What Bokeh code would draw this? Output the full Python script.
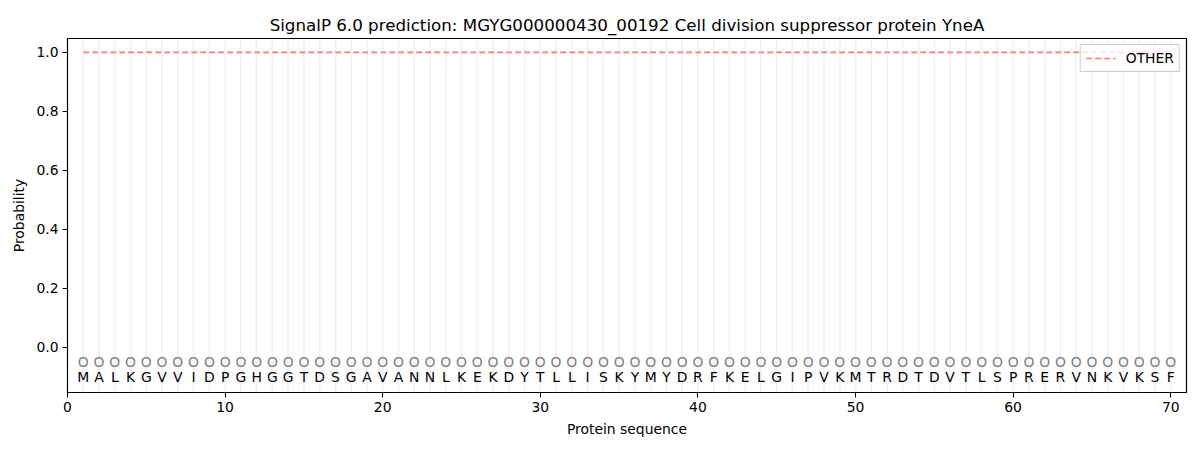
from bokeh.plotting import figure
from bokeh.models import Range1d, ColumnDataSource, Legend, LegendItem, FixedTicker
from bokeh.core.properties import value
from bokeh.embed import file_html
from bokeh.resources import INLINE

title_text = "SignalP 6.0 prediction: MGYG000000430_00192 Cell division suppressor protein YneA"
residues = ["M", "A", "L", "K", "G", "V", "V", "I", "D", "P",
            "G", "H", "G", "G", "T", "D", "S", "G", "A", "V",
            "A", "N", "N", "L", "K", "E", "K", "D", "Y", "T",
            "L", "L", "I", "S", "K", "Y", "M", "Y", "D", "R",
            "F", "K", "E", "L", "G", "I", "P", "V", "K", "M",
            "T", "R", "D", "T", "D", "V", "T", "L", "S", "P",
            "R", "E", "R", "V", "N", "K", "V", "K", "S", "F"]
positions = list(range(1, len(residues) + 1))
labels = ["O"] * len(residues)
other_prob = [1.0, 1.0, 1.0, 1.0, 1.0, 1.0, 1.0, 1.0, 1.0, 1.0,
              1.0, 1.0, 1.0, 1.0, 1.0, 1.0, 1.0, 1.0, 1.0, 1.0,
              1.0, 1.0, 1.0, 1.0, 1.0, 1.0, 1.0, 1.0, 1.0, 1.0,
              1.0, 1.0, 1.0, 1.0, 1.0, 1.0, 1.0, 1.0, 1.0, 1.0,
              1.0, 1.0, 1.0, 1.0, 1.0, 1.0, 1.0, 1.0, 1.0, 1.0,
              1.0, 1.0, 1.0, 1.0, 1.0, 1.0, 1.0, 1.0, 1.0, 1.0,
              1.0, 1.0, 1.0, 1.0, 1.0, 1.0, 1.0, 1.0, 1.0, 1.0]
x_ticks = [0, 10, 20, 30, 40, 50, 60, 70]
y_ticks = [0.0, 0.2, 0.4, 0.6, 0.8, 1.0]

FONT = "DejaVu Sans"
FS = "13.9px"

p = figure(width=1192, height=442, output_backend="svg", toolbar_location=None,
           x_range=Range1d(0, 71), y_range=Range1d(-0.153, 1.047),
           min_border_left=67, min_border_right=6, min_border_top=38, min_border_bottom=50)

p.title.text = title_text
p.title.align = "center"
p.title.text_font = FONT
p.title.text_font_size = "16.7px"
p.title.text_font_style = "normal"
p.title.text_color = "black"
p.title.standoff = 8

p.xgrid.visible = False
p.ygrid.visible = False
p.outline_line_color = "black"
p.outline_line_width = 1.2
p.outline_line_alpha = 1.0

# vertical guide lines at each residue
p.segment(x0=positions, y0=[-0.153] * len(positions), x1=positions, y1=[1.047] * len(positions),
          line_color="#d8d8d8", line_alpha=0.3, line_width=2)

src = ColumnDataSource(dict(x=positions, other=other_prob, res=residues, lab=labels,
                            ylab=[-0.05] * len(positions), yres=[-0.10] * len(positions)))

line = p.line(x="x", y="other", source=src, line_color="#f08080", line_width=1.7,
              line_dash="6 3")

p.text(x="x", y="ylab", text="lab", source=src, text_align="center", text_baseline="middle",
       text_font=value(FONT), text_font_size=FS, text_color="#808080")
p.text(x="x", y="yres", text="res", source=src, text_align="center", text_baseline="middle",
       text_font=value(FONT), text_font_size=FS, text_color="black")

legend = Legend(items=[LegendItem(label="OTHER", renderers=[line])], location="top_right",
                label_text_font=FONT, label_text_font_size=FS, label_text_color="black",
                border_line_color="#cccccc", border_line_alpha=1.0,
                background_fill_alpha=0.8, margin=6, padding=5, spacing=0,
                glyph_width=30, glyph_height=16, label_standoff=10)
p.add_layout(legend)

for ax in (p.xaxis[0], p.yaxis[0]):
    ax.major_label_text_font = FONT
    ax.major_label_text_font_size = FS
    ax.major_label_text_color = "black"
    ax.axis_label_text_font = FONT
    ax.axis_label_text_font_size = FS
    ax.axis_label_text_font_style = "normal"
    ax.axis_label_text_color = "black"
    ax.major_tick_out = 5
    ax.major_tick_in = 0
    ax.minor_tick_out = 0
    ax.minor_tick_in = 0
    ax.axis_line_color = None
    ax.major_tick_line_color = "black"
    ax.major_label_standoff = 4

p.xaxis[0].ticker = FixedTicker(ticks=x_ticks)
p.yaxis[0].ticker = FixedTicker(ticks=y_ticks)
p.yaxis[0].major_label_overrides = {v: f"{v:.1f}" for v in y_ticks}
p.xaxis[0].axis_label = "Protein sequence"
p.yaxis[0].axis_label = "Probability"
p.xaxis[0].axis_label_standoff = 6
p.yaxis[0].axis_label_standoff = 6

open("out.html", "w").write(file_html(p, INLINE))
